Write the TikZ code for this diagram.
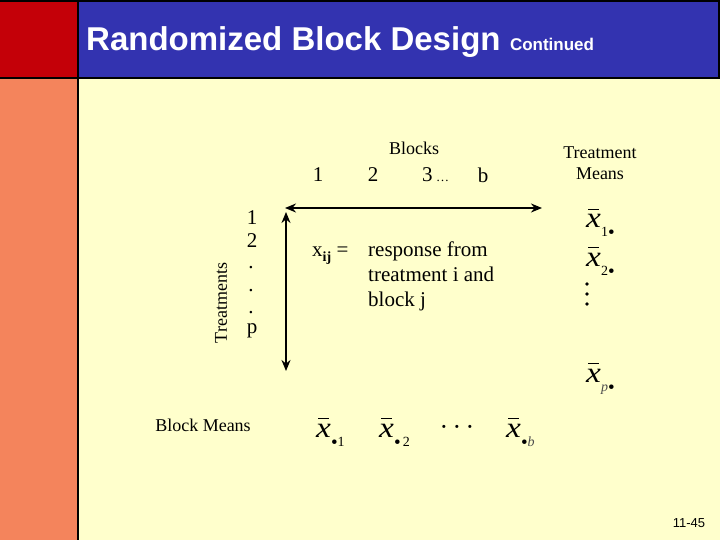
\documentclass[tikz,border=0pt]{standalone}
\usepackage{fontspec}
\usepackage{graphicx}
\setmainfont{Liberation Serif}
\setsansfont{Liberation Sans}
\usetikzlibrary{arrows.meta, positioning, calc}
\definecolor{rbred}{RGB}{196,0,8}
\definecolor{rborange}{RGB}{244,132,92}
\definecolor{rbblue}{RGB}{51,51,176}
\definecolor{rbyellow}{RGB}{255,255,204}
% x with a bar and a lowered index
\newcommand{\xmean}[1]{\makebox[0pt][l]{\hspace{0.07em}\raisebox{0.62em}{\rule{0.38em}{0.05em}}}\scalebox{1.15}[1]{\textit{x}}\raisebox{-9pt}{\fontsize{14}{16}\selectfont #1}}
\newcommand{\mdot}{\raisebox{-2pt}{\fontsize{19}{19}\selectfont\textbullet}}

\begin{document}
\begin{tikzpicture}[x=1pt, y=-1pt,
  lbl/.style={inner sep=0pt, font=\fontsize{18}{20}\selectfont},
  num/.style={inner sep=0pt, font=\fontsize{21}{23}\selectfont},
  xbar/.style={inner sep=0pt, anchor=base west, font=\fontsize{29}{31}\selectfont},
  vdot/.style={circle, fill, inner sep=0pt, minimum size=3.6pt},
  arr/.style={{Stealth[length=11pt,width=9pt]}-{Stealth[length=11pt,width=9pt]}, line width=2.6pt}
]
\useasboundingbox (0,0) rectangle (720,540);
% slide background
\fill[rbyellow] (0,0) rectangle (720,540);
\fill[rborange] (0,0) rectangle (78,540);
\fill[rbred] (0,0) rectangle (78,78);
\fill[rbblue] (78,0) rectangle (720,78);
\draw[line width=2pt] (0,1) -- (720,1);
\draw[line width=2pt] (0,78) -- (720,78);
\draw[line width=2pt] (78,0) -- (78,540);
\draw[line width=2pt] (719,0) -- (719,78);
% title
\node[anchor=base west, inner sep=0pt, text=white, font=\sffamily\bfseries\fontsize{33}{35}\selectfont] (title) at (86,51) {Randomized Block Design};
\node[inner sep=0pt, text=white, font=\sffamily\bfseries\fontsize{17}{19}\selectfont, right=9pt of title.base east, anchor=base west] (cont) {Continued};
% column heads
\node[lbl] (blocks) at (414,148) {Blocks};
\node[num] (b1) at (318,175) {1};
\node[num] (b2) at (373,175) {2};
\node[num, anchor=base west] (b3) at (422,182) {3\,\fontsize{13}{15}\selectfont\dots};
\node[num] (bb) at (483,175) {b};
\node[lbl, align=center, font=\fontsize{18}{21}\selectfont] (tmeans) at (600,163) {Treatment\\Means};
% row heads
\node[num] (t1) at (252,218) {1};
\node[num] (t2) at (252,241) {2};
\node[num] (td1) at (251,268) {.};
\node[num] (td2) at (251,291) {.};
\node[num] (td3) at (251,313) {.};
\node[num] (tp) at (252,331) {p};
\node[lbl, rotate=90] (treat) at (221,303) {Treatments};
% arrows
\coordinate (hl) at (285,208);
\coordinate (hr) at (542,208);
\coordinate (vt) at (286,212);
\coordinate (vb) at (286,371);
\draw[arr] (hl) -- (hr);
\draw[arr] (vt) -- (vb);
% definition
\node[num, anchor=base west] (xij) at (312,256) {x\raisebox{-0.25em}{\bfseries\fontsize{14}{16}\selectfont ij} =};
\node[num, anchor=base west] (resp1) at (368,256) {response from};
\node[num, anchor=base west] (resp2) at (368,281) {treatment i and};
\node[num, anchor=base west] (resp3) at (368,306) {block j};
% treatment means
\node[xbar] (m1) at (586,228) {\xmean{1\mdot}};
\node[xbar] (m2) at (586,266) {\xmean{2\mdot}};
\node[vdot] (md1) at (587,284) {};
\node[vdot] (md2) at (587,294) {};
\node[vdot] (md3) at (587,304) {};
\node[xbar] (mp) at (586,382) {\xmean{\textcolor{black!70}{\textit{p}}\mdot}};
% block means
\node[lbl] (bmeans) at (203,425) {Block Means};
\node[xbar] (c1) at (316,437) {\xmean{\mdot1}};
\node[xbar] (c2) at (379,437) {\xmean{\mdot\,2}};
\node[inner sep=0pt, font=\fontsize{26}{28}\selectfont] (cdots) at (457,430) {\textperiodcentered\,\textperiodcentered\,\textperiodcentered};
\node[xbar] (cb) at (506,437) {\xmean{\mdot\textcolor{black!70}{\textit{b}}}};
% page number
\node[inner sep=0pt, font=\sffamily\fontsize{13}{15}\selectfont] (page) at (689,523) {11-45};
\end{tikzpicture}
\end{document}
